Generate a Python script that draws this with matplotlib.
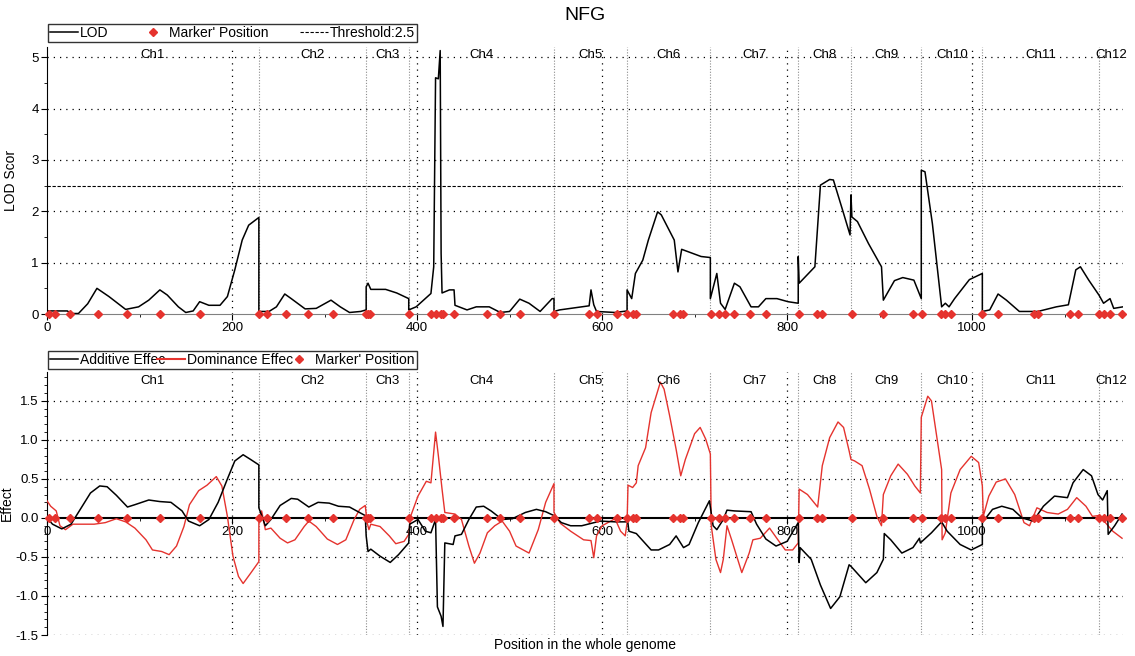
import matplotlib
matplotlib.use("Agg")
import matplotlib.pyplot as plt
from matplotlib.lines import Line2D
from matplotlib.ticker import MultipleLocator

plt.rcParams["font.family"] = ["Liberation Sans", "DejaVu Sans"]

# chromosome boundaries on the whole-genome axis (cM) and their names
chrom_bounds = [0, 229, 345, 391, 548, 627, 717, 812, 869, 945, 1011, 1137, 1163]
chrom_names = ["Ch1", "Ch2", "Ch3", "Ch4", "Ch5", "Ch6", "Ch7", "Ch8", "Ch9", "Ch10", "Ch11", "Ch12"]

marker_pos = [2, 9, 25, 55, 86, 122, 165, 229, 238, 258, 282, 309, 345, 347, 349,
              391, 415, 420, 426, 428, 440, 476, 490, 511, 548, 586, 595, 616, 627,
              633, 637, 677, 684, 687, 718, 726, 733, 743, 760, 777, 813, 832, 838,
              870, 904, 936, 946, 966, 971, 977, 1011, 1028, 1067, 1071, 1106, 1114,
              1137, 1143, 1149, 1162]

threshold = 2.5

lod_x = [0, 22, 26, 34, 44, 54, 67, 85, 99, 110, 122, 130, 142, 150, 158, 165, 175, 187, 195, 203, 211, 218, 229,
         229, 240, 248, 257, 264, 279, 291, 307, 317, 327, 339, 345,
         345, 347, 350, 366, 378, 391,
         391, 399, 407, 415, 418, 420, 423, 425, 426, 427, 435, 440, 441, 454, 464, 478, 490, 500, 511, 521, 533, 546, 548,
         548, 554, 586, 588, 591, 594, 614, 627,
         627, 632, 636, 644, 650, 660, 664, 678, 682, 686, 707, 717,
         717, 724, 728, 733, 743, 749, 761, 769, 777, 789, 801, 812,
         812, 813, 830, 836, 846, 850, 860, 868, 869,
         870, 876, 888, 902, 904, 916, 925, 937, 945,
         945, 949, 957, 967, 971, 975, 981, 997, 1011,
         1011, 1019, 1028, 1037, 1051, 1071, 1091, 1104, 1112, 1117, 1126, 1137,
         1142, 1149, 1153, 1163]
lod_y = [0.06, 0.06, 0.01, 0.01, 0.2, 0.5, 0.34, 0.09, 0.14, 0.27, 0.47, 0.37, 0.14, 0.03, 0.06, 0.24, 0.17, 0.17, 0.34, 0.86, 1.44, 1.73, 1.88,
         0.05, 0.05, 0.14, 0.39, 0.3, 0.1, 0.11, 0.27, 0.14, 0.03, 0.05, 0.08,
         0.53, 0.6, 0.48, 0.48, 0.41, 0.3,
         0.08, 0.14, 0.27, 0.4, 0.92, 4.6, 4.58, 5.13, 1.18, 0.41, 0.47, 0.47, 0.17, 0.08, 0.14, 0.14, 0.03, 0.05, 0.29, 0.21, 0.05, 0.3, 0.3,
         0.05, 0.08, 0.16, 0.47, 0.18, 0.05, 0.03, 0.06,
         0.47, 0.3, 0.79, 1.05, 1.44, 1.99, 1.93, 1.44, 0.82, 1.26, 1.12, 1.1,
         0.3, 0.79, 0.21, 0.09, 0.6, 0.53, 0.14, 0.14, 0.3, 0.3, 0.24, 0.21,
         1.12, 0.6, 0.92, 2.51, 2.62, 2.61, 2.02, 1.54, 2.32,
         1.89, 1.8, 1.37, 0.92, 0.27, 0.65, 0.71, 0.66, 0.3,
         2.8, 2.77, 1.76, 0.14, 0.21, 0.14, 0.3, 0.67, 0.79,
         0.05, 0.08, 0.39, 0.27, 0.05, 0.05, 0.14, 0.18, 0.86, 0.92, 0.66, 0.37,
         0.21, 0.3, 0.11, 0.14]

add_x = [0, 6, 16, 26, 36, 47, 57, 65, 75, 87, 95, 110, 122, 134, 146, 153, 165, 175, 185, 195, 203, 212, 220, 229,
         229, 236, 242, 252, 264, 271, 283, 293, 305, 315, 327, 344,
         345, 347, 350, 360, 371, 380, 391,
         392, 401, 409, 415, 420, 422, 426, 428, 430, 439, 441, 448, 456, 464, 472, 480, 492, 503, 517, 529, 539, 548,
         556, 566, 578, 598, 614, 626, 627,
         629, 637, 653, 661, 673, 680, 688, 694, 704, 716,
         720, 724, 731, 735, 743, 761, 767, 777, 788, 800, 812,
         813, 814, 826, 836, 847, 857, 867,
         869, 885, 897, 904, 905, 912, 924, 936, 943,
         944, 956, 967, 973, 987, 999, 1011,
         1011, 1022, 1032, 1044, 1054, 1066, 1077, 1089, 1103, 1109, 1120, 1129, 1136,
         1141, 1146, 1147, 1154, 1162]
add_y = [0.0, -0.08, -0.14, -0.08, 0.11, 0.32, 0.41, 0.4, 0.29, 0.14, 0.17, 0.23, 0.21, 0.2, 0.09, -0.04, -0.1, -0.02, 0.2, 0.5, 0.73, 0.81, 0.75, 0.68,
         0.13, -0.1, -0.02, 0.16, 0.25, 0.24, 0.14, 0.2, 0.19, 0.15, 0.14, 0.03,
         -0.23, -0.43, -0.4, -0.49, -0.57, -0.47, -0.32,
         -0.08, -0.02, -0.17, -0.19, -0.02, -1.14, -1.26, -1.39, -0.32, -0.34, -0.23, -0.21, -0.02, 0.14, 0.15, 0.09, -0.02, -0.01, 0.07, 0.11, 0.08, 0.03,
         -0.06, -0.1, -0.1, -0.04, -0.05, -0.05, 0.02,
         -0.17, -0.2, -0.41, -0.41, -0.34, -0.23, -0.38, -0.34, -0.06, 0.22,
         -0.1, -0.15, -0.02, 0.1, 0.09, 0.08, -0.08, -0.27, -0.36, -0.3, -0.06,
         -0.57, -0.38, -0.53, -0.86, -1.16, -1.01, -0.6,
         -0.62, -0.83, -0.7, -0.53, -0.2, -0.28, -0.45, -0.38, -0.26,
         -0.32, -0.19, -0.05, -0.17, -0.34, -0.41, -0.34,
         -0.06, 0.11, 0.15, 0.11, 0.0, -0.04, 0.15, 0.28, 0.26, 0.45, 0.62, 0.54, 0.3,
         0.23, 0.35, -0.21, -0.1, 0.05]

dom_x = [0, 4, 10, 14, 20, 28, 51, 63, 75, 85, 95, 107, 114, 124, 132, 140, 148, 154, 164, 173, 183, 189, 195, 201, 207, 212, 220, 229,
         229, 232, 236, 242, 252, 260, 268, 278, 283, 291, 303, 314, 323, 332, 338, 344,
         346, 348, 350, 360, 370, 377, 386, 391,
         393, 401, 410, 415, 420, 423, 427, 430, 441, 448, 456, 462, 468, 476, 484, 492, 500, 507, 521, 531, 539, 548,
         548, 555, 566, 580, 588, 591, 594, 600, 614, 620, 625, 627,
         628, 633, 637, 639, 647, 653, 663, 667, 673, 680, 685, 690, 700, 706, 712, 717,
         718, 723, 728, 731, 735, 740, 751, 759, 763, 771, 781, 790, 798, 806, 812,
         813, 822, 833, 838, 846, 855, 861, 867, 869,
         873, 881, 889, 897, 902, 904, 912, 920, 930, 938, 944,
         945, 952, 956, 967, 967.5, 971, 977, 987, 999, 1007, 1011,
         1012, 1018, 1026, 1036, 1046, 1056, 1062, 1070, 1081, 1093, 1103, 1113, 1123, 1130, 1136,
         1138, 1144, 1152, 1162]
dom_y = [0.22, 0.15, 0.09, -0.1, -0.15, -0.08, -0.08, -0.06, -0.01, -0.05, -0.13, -0.28, -0.41, -0.43, -0.47, -0.36, -0.11, 0.17, 0.35, 0.42, 0.53, 0.41, 0.02, -0.49, -0.75, -0.84, -0.71, -0.56,
         -0.06, 0.09, -0.15, -0.13, -0.26, -0.32, -0.28, -0.11, -0.04, -0.11, -0.27, -0.34, -0.28, -0.02, 0.11, 0.16,
         -0.06, -0.15, -0.08, -0.11, -0.23, -0.33, -0.3, -0.21,
         0.02, 0.28, 0.47, 0.45, 1.1, 0.8, 0.37, 0.07, 0.05, -0.02, -0.36, -0.58, -0.45, -0.19, -0.1, -0.04, -0.17, -0.36, -0.45, -0.15, 0.2, 0.44,
         0.07, -0.07, -0.17, -0.28, -0.29, -0.51, -0.23, -0.1, -0.01, -0.17, -0.23, -0.06,
         0.42, 0.39, 0.45, 0.67, 0.9, 1.35, 1.74, 1.65, 1.31, 0.88, 0.54, 0.75, 1.08, 1.16, 1.01, 0.82,
         -0.1, -0.53, -0.7, -0.53, -0.1, -0.28, -0.7, -0.45, -0.28, -0.26, -0.13, -0.28, -0.41, -0.41, -0.32,
         0.37, 0.3, 0.14, 0.67, 1.03, 1.23, 1.16, 0.86, 0.75,
         0.73, 0.67, 0.37, 0.02, -0.1, 0.3, 0.54, 0.69, 0.56, 0.41, 0.32,
         1.29, 1.56, 1.5, 0.62, -0.28, -0.19, 0.32, 0.62, 0.79, 0.71, 0.41,
         0.02, 0.28, 0.46, 0.5, 0.3, -0.06, -0.1, 0.13, 0.07, 0.05, 0.11, 0.26, 0.15, 0.02, 0.03,
         0.02, -0.06, -0.17, -0.26]

RED = "#e5332e"
DOT = (0, (1, 4))
BOUND = (0, (1, 1.5))

fig = plt.figure(figsize=(11.35, 6.56), dpi=100)
ax1 = fig.add_axes([0.0414, 0.5213, 0.948, 0.4071])
ax2 = fig.add_axes([0.0414, 0.032, 0.948, 0.4009])

xmax = chrom_bounds[-1]


def decorate(ax, ygrid, label_y):
    for s in ("top", "right"):
        ax.spines[s].set_visible(False)
    for y in ygrid:
        ax.axhline(y, color="k", ls=DOT, lw=0.9, zorder=1)
    for x in range(200, 1001, 200):
        ax.axvline(x, color="k", ls=DOT, lw=0.9, zorder=1)
    for b in chrom_bounds[1:-1]:
        ax.axvline(b, color="#8c8c8c", ls=BOUND, lw=0.8, zorder=1)
    for i, name in enumerate(chrom_names):
        mid = (chrom_bounds[i] + chrom_bounds[i + 1]) / 2
        ax.text(mid, label_y, name, ha="center", va="center", fontsize=9.5, zorder=5)
    ax.set_xlim(0, xmax)
    ax.xaxis.set_major_locator(MultipleLocator(200))
    ax.xaxis.set_minor_locator(MultipleLocator(100))
    ax.tick_params(which="major", labelsize=9.5, length=4, pad=2)
    ax.tick_params(which="minor", length=2)


# LOD panel
decorate(ax1, [1, 2, 3, 4, 5], 5.05)
ax1.set_ylim(0, 5.2)
ax1.yaxis.set_major_locator(MultipleLocator(1))
ax1.yaxis.set_minor_locator(MultipleLocator(0.5))
ax1.spines["bottom"].set_color("#808080")
ax1.axhline(threshold, color="k", ls=(0, (3, 1.5)), lw=0.8, zorder=2)
ax1.plot(lod_x, lod_y, color="k", lw=1.1, zorder=3)
ax1.plot(marker_pos, [0] * len(marker_pos), "D", color=RED, ms=3.6, clip_on=False, zorder=4)
ax1.set_ylabel("LOD Scor", fontsize=10)
ax1.yaxis.set_label_coords(-0.027, 0.5)

h1 = [Line2D([], [], color="k", lw=1.1),
      Line2D([], [], ls="none", marker="D", color=RED, ms=3.6),
      Line2D([], [], color="k", ls=(0, (3, 1.5)), lw=0.8)]
leg1 = fig.legend(h1, ["LOD", "Marker' Position", "Threshold:2.5"], loc="lower left",
                  bbox_to_anchor=(48 / 1135, 1 - 42 / 656, 369 / 1135, 19 / 656),
                  bbox_transform=fig.transFigure, mode="expand", ncol=3, fontsize=10,
                  frameon=True, fancybox=False, edgecolor="k", borderaxespad=0,
                  borderpad=0.15, handlelength=2.0, handletextpad=0.15, columnspacing=1.0)
leg1.get_frame().set_linewidth(1.0)

# effect panel
decorate(ax2, [-1.5, -1.0, -0.5, 0.5, 1.0, 1.5], 1.75)
ax2.set_ylim(-1.5, 1.87)
ax2.yaxis.set_major_locator(MultipleLocator(0.5))
ax2.yaxis.set_minor_locator(MultipleLocator(0.1))
ax2.yaxis.set_major_formatter(plt.FuncFormatter(lambda v, p: f"{v:.1f}"))
ax2.spines["bottom"].set_position(("data", 0))
ax2.spines["bottom"].set_linewidth(1.5)
ax2.plot(dom_x, dom_y, color=RED, lw=1.0, zorder=3)
ax2.plot(add_x, add_y, color="k", lw=1.1, zorder=3)
ax2.plot(marker_pos, [0] * len(marker_pos), "D", color=RED, ms=3.6, clip_on=False, zorder=4)
ax2.set_ylabel("Effect", fontsize=10)
ax2.yaxis.set_label_coords(-0.031, 0.5)

h2 = [Line2D([], [], color="k", lw=1.1),
      Line2D([], [], color=RED, lw=1.5),
      Line2D([], [], ls="none", marker="D", color=RED, ms=3.6)]
leg2 = fig.legend(h2, ["Additive Effec", "Dominance Effec", "Marker' Position"], loc="lower left",
                  bbox_to_anchor=(48 / 1135, 1 - 369 / 656, 369 / 1135, 19 / 656),
                  bbox_transform=fig.transFigure, mode="expand", ncol=3, fontsize=10,
                  frameon=True, fancybox=False, edgecolor="k", borderaxespad=0,
                  borderpad=0.15, handlelength=2.0, handletextpad=0.15, columnspacing=0.4)
leg2.get_frame().set_linewidth(1.0)

fig.text(0.515, 0.977, "NFG", ha="center", va="center", fontsize=14)
fig.text(0.515, 0.017, "Position in the whole genome", ha="center", va="center", fontsize=10)

fig.savefig("out.png", dpi=100)
